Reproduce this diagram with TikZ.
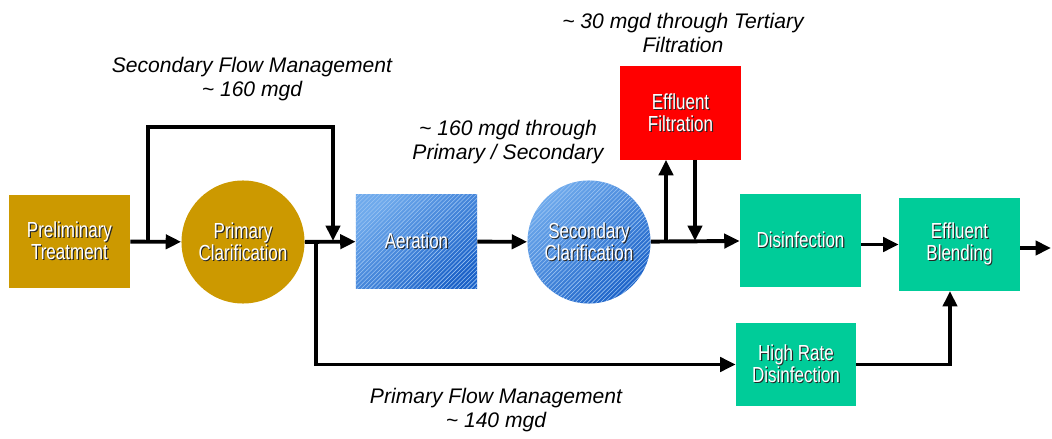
\documentclass[tikz,border=0pt]{standalone}
\usepackage{fontspec}
\setmainfont{Liberation Sans}
\newfontfamily\narrowfont{Liberation Sans}[FakeStretch=0.78]
\usetikzlibrary{arrows.meta,patterns,positioning}
\definecolor{gold}{HTML}{CC9900}
\definecolor{mint}{HTML}{00CC99}
\definecolor{skyA}{HTML}{6FAAEC}
\definecolor{skyB}{HTML}{1C62C8}
\newcommand\shd[1]{\leavevmode\rlap{\kern0.8pt\raisebox{-0.8pt}{\color{black!85}#1}}#1}
\tikzset{
  flow/.style={line width=2.8pt,-{Triangle[length=11pt,width=10pt]}},
  unit/.style={rectangle,minimum width=3.025cm,minimum height=2.325cm,inner sep=0pt,
    text=white,align=center,font=\narrowfont\fontsize{15.5}{15.6}\selectfont},
  tank/.style={circle,minimum size=3.075cm,inner sep=0pt,
    text=white,align=center,font=\narrowfont\fontsize{15.5}{15.6}\selectfont},
  blue/.style={top color=skyA,bottom color=skyB,shading angle=40,
    postaction={pattern=north east lines,pattern color=white!30!skyA}},
  note/.style={align=center,font=\fontsize{15}{17.7}\selectfont\itshape}
}
\begin{document}
\begin{tikzpicture}[x=0.025cm,y=-0.025cm]
\useasboundingbox (0,0) rectangle (1052,439);
% treatment units
\node[unit,fill=gold] (prelim) at (69.5,241.5) {\shd{Preliminary}\\\shd{Treatment}};
\node[tank,fill=gold] (pricl)  at (243,242)    {\shd{Primary}\\\shd{Clarification}};
\node[unit,blue]      (aer)    at (416.5,241.5) {\shd{Aeration}};
\node[tank,blue]      (secl)   at (589,242)    {\shd{Secondary}\\\shd{Clarification}};
\node[unit,fill=red]  (filt)   at (680.5,113)  {\shd{Effluent}\\\shd{Filtration}};
\node[unit,fill=mint] (dis)    at (800.5,240.5) {\shd{Disinfection}};
\node[unit,fill=mint] (blend)  at (959.5,244.5) {\shd{Effluent}\\\shd{Blending}};
\node[unit,fill=mint,minimum width=3cm,minimum height=2.075cm] (hrd) at (796,364.5) {\shd{High Rate}\\\shd{Disinfection}};
% junctions
\coordinate (j1) at (148,241);
\coordinate (tl) at (148,127);
\coordinate (tr) at (333,127);
\coordinate (j2) at (333,241);
\coordinate (j3) at (316,241);
\coordinate (j4) at (666,241);
\coordinate (j5) at (695,241);
\coordinate (bs) at (950,291);
\coordinate (out) at (1051,248);
% flows
\draw[flow] (prelim) -- (pricl);
\draw[flow] (j1) -- (tl) -- (tr) -- (j2);
\draw[flow] (pricl) -- (aer);
\draw[flow] (j3) |- (hrd);
\draw[flow] (aer) -- (secl);
\draw[flow] (secl) -- (dis.west |- j4);
\draw[flow] (j4) -- (j4 |- filt.south);
\draw[flow] (j5 |- filt.south) -- (j5);
\draw[flow] (dis.east |- blend) -- (blend);
\draw[flow] (blend.east |- out) -- (out);
\draw[flow] (hrd) -| (bs);
% flow notes
\node[note] (secnote) at (252,79)  {Secondary Flow Management\\\textasciitilde{} 160 mgd};
\node[note] (psnote)  at (508,142) {\textasciitilde{} 160 mgd through\\Primary / Secondary};
\node[note] (ternote) at (683,33)  {\textasciitilde{} 30 mgd through Tertiary\\Filtration};
\node[note] (prinote) at (496,410) {Primary Flow Management\\\textasciitilde{} 140 mgd};
\end{tikzpicture}
\end{document}
